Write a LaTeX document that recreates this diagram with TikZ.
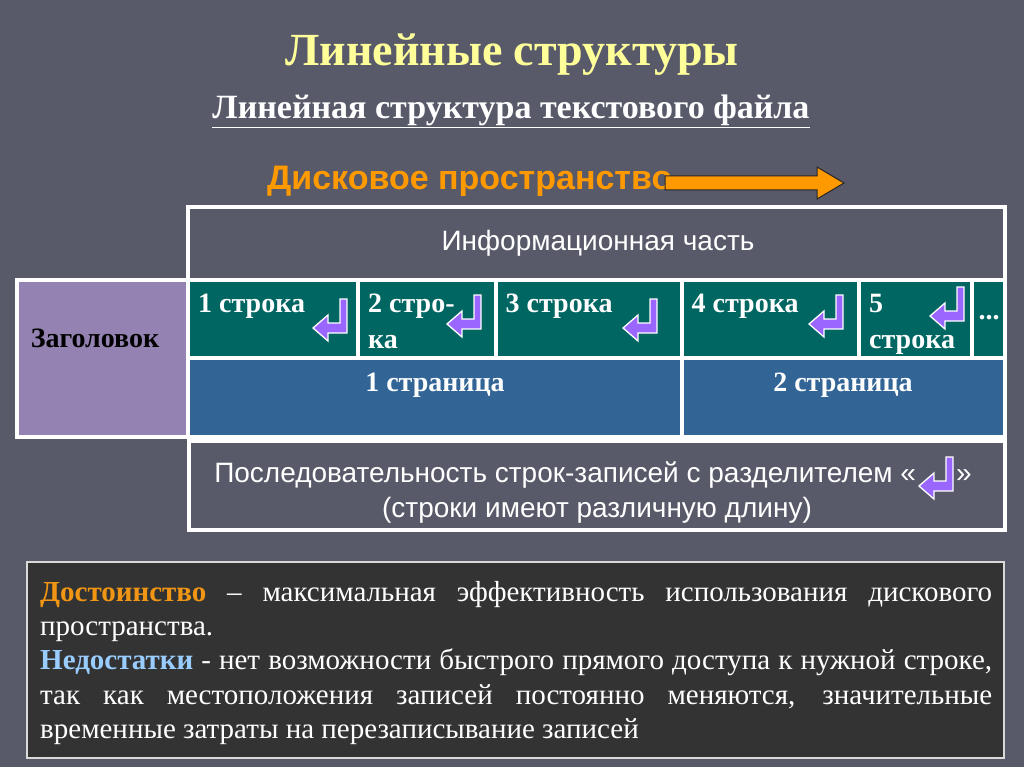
\documentclass[tikz,border=0pt]{standalone}
\usepackage{fontspec}
\setmainfont{Liberation Serif}
\newfontfamily\slidesans{Liberation Sans}
\usetikzlibrary{positioning,calc}

\definecolor{slidebg}{RGB}{88,90,106}
\definecolor{titleyel}{RGB}{255,255,153}
\definecolor{diskorange}{RGB}{255,153,0}
\definecolor{rowteal}{RGB}{0,102,98}
\definecolor{pageblue}{RGB}{51,100,150}
\definecolor{headpurple}{RGB}{148,130,178}
\definecolor{retpurple}{RGB}{153,102,255}
\definecolor{panelgray}{RGB}{51,51,51}
\definecolor{minusblue}{RGB}{153,204,255}
\definecolor{plusorange}{RGB}{240,150,20}

\tikzset{
  retarr/.pic={
    \filldraw[fill=retpurple, draw=white, line width=1.3pt, line join=miter]
      (0,0) -- (0,34) -- (-19,34) -- (-19,42) -- (-34,29) -- (-19,16)
      -- (-19,24) -- (-7,24) -- (-7,0) -- cycle;
  }
}

\begin{document}
\begin{tikzpicture}[
  x=1pt,
  y=-1pt,
  frame/.style={draw=white, line width=3.5pt},
  rowcell/.style={fill=rowteal, draw=white, line width=4pt},
  pagecell/.style={fill=pageblue, draw=white, line width=4pt},
  celltext/.style={text=white, font=\bfseries\fontsize{28}{36}\selectfont, anchor=north west, align=left, inner sep=0pt},
  pagetext/.style={text=white, font=\bfseries\fontsize{28}{34}\selectfont, anchor=base, inner sep=0pt},
  sanstext/.style={text=white, font=\slidesans\fontsize{28}{33}\selectfont, inner sep=0pt}
]
\fill[slidebg] (0,0) rectangle (1024,767);

% headings
\node[text=titleyel, font=\bfseries\fontsize{46}{50}\selectfont] (title) at (512,55) {Линейные структуры};
\node[text=white, font=\bfseries\fontsize{34}{40}\selectfont] (subtitle) at (511,111) {\underline{Линейная структура текстового файла}};
\node[text=diskorange, font=\slidesans\bfseries\fontsize{34}{40}\selectfont, anchor=west, inner sep=0pt] (disk) at (267,181) {Дисковое пространство};
\filldraw[fill=diskorange, draw=black!85, line width=1pt]
  (665,176) -- (817,176) -- (817,167) -- (844,183) -- (817,199) -- (817,190) -- (665,190) -- cycle;

% information part
\draw[frame] (188,207) rectangle (1005,280);
\node[sanstext] (info) at (598,243) {Информационная часть};

\filldraw[fill=headpurple, frame] (17,280) rectangle (188,437);
\node[font=\bfseries\fontsize{28}{34}\selectfont] (head) at (95,338) {Заголовок};

\foreach \n/\xl/\xr/\txt/\ix/\iy in {
  1/188/358/{1 строка}/347/299,
  2/358/495.5/{2 стро-\\ка}/481/295,
  3/495.5/681.5/{3 строка}/657/299,
  4/681.5/859/{4 строка}/843/295,
  5/859/971.5/{5\\строка}/964/287
}{
  \filldraw[rowcell] (\xl,280) rectangle (\xr,358);
  \node[celltext] (line\n) at (\xl+10,294) {\txt};
  \pic at (\ix,\iy) {retarr};
}
\filldraw[rowcell] (971.5,280) rectangle (1005,358);
\node[celltext, anchor=center] (dots) at (989,318) {...};

\filldraw[pagecell] (188,358) rectangle (681.5,437);
\node[pagetext] (page1) at (435,391) {1 страница};
\filldraw[pagecell] (681.5,358) rectangle (1005,437);
\node[pagetext] (page2) at (843,391) {2 страница};

% sequence of records
\draw[frame] (189,441) rectangle (1005,530);
\node[sanstext] (seq1) at (593,475) {Последовательность строк-записей с разделителем «\hspace{40pt}»};
\node[sanstext] (seq2) at (597,510) {(строки имеют различную длину)};
\pic at ([shift={(-19,-18)}]seq1.east) {retarr};

% merits and drawbacks
\filldraw[fill=panelgray, draw=black!15, line width=2pt] (27,562) rectangle (1004,758);
\node[text=white, font=\fontsize{29}{34.3}\selectfont, text width=952pt, align=justify,
      anchor=north west, inner sep=0pt] (notes) at (40,581)
  {\hyphenpenalty=10000\exhyphenpenalty=10000
   {\color{plusorange}\bfseries Достоинство} – максимальная эффективность использования дискового\linebreak
   пространства.\\
   {\color{minusblue}\bfseries Недостатки} - нет возможности быстрого прямого доступа к нужной строке,\linebreak
   так как местоположения записей постоянно меняются, значительные\linebreak
   временные затраты на перезаписывание записей};
\end{tikzpicture}
\end{document}
